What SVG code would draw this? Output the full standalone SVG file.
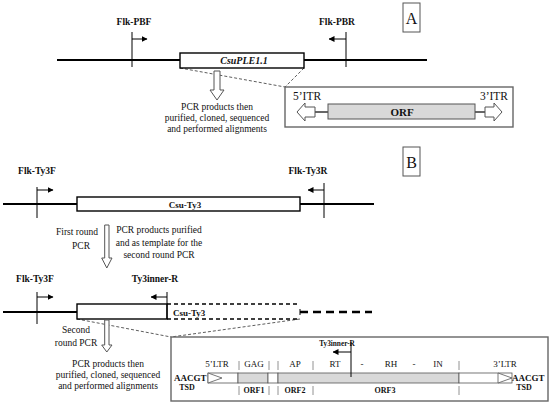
<svg xmlns="http://www.w3.org/2000/svg" width="550" height="404" viewBox="0 0 550 404">
<defs>
<marker id="ah" viewBox="0 0 6 6" refX="5.5" refY="3" markerWidth="6" markerHeight="6" markerUnits="userSpaceOnUse" orient="auto">
<path d="M0,0 L6,3 L0,6 Z" fill="#000"/>
</marker>
<style>
text{font-family:"Liberation Serif","Times New Roman",serif;fill:#111}
.b{font-weight:bold}
.lbl{font-size:9.5px;font-weight:bold;text-anchor:middle}
.txt{font-size:9.5px;text-anchor:middle}
.main{stroke:#000;stroke-width:1.8;fill:none}
.box{fill:#fff;stroke:#000;stroke-width:1.4}
.tick{stroke:#000;stroke-width:1;fill:none}
.pr{stroke:#000;stroke-width:1;fill:none;marker-end:url(#ah)}
.hol{fill:#fff;stroke:#555;stroke-width:1}
.dot{stroke:#333;stroke-width:0.8;stroke-dasharray:3,2;fill:none}
.panel{fill:#fff;stroke:#666;stroke-width:1.4}
.sep{stroke:#777;stroke-width:0.8}
.gray{fill:#d9d9d9;stroke:#555;stroke-width:0.8}
.wh{fill:#fff;stroke:#555;stroke-width:0.8}
</style>
</defs>

<!-- Panel A -->
<g id="labelA"><rect x="403" y="3" width="17" height="29" fill="#fff" stroke="#555" stroke-width="1"/><text x="411.5" y="24" font-size="16" text-anchor="middle">A</text></g>

<g id="connectors">
<line class="main" x1="57" y1="60" x2="427" y2="60"/>
<line class="dot" x1="180" y1="68" x2="285" y2="87"/>
<line class="dot" x1="304" y1="68" x2="285" y2="87"/>
<line class="main" x1="3" y1="204" x2="374" y2="204"/>
<line class="main" x1="3" y1="312" x2="77" y2="312"/>
<line class="dot" x1="77" y1="319" x2="171" y2="337"/>
<line class="dot" x1="300" y1="319" x2="171" y2="337"/>
<path d="M167,304 H300 M167,319 H300" stroke="#000" stroke-width="1.5" stroke-dasharray="4,3" fill="none"/>
<line x1="300" y1="309" x2="300" y2="315" stroke="#000" stroke-width="1"/>
<line x1="300" y1="312" x2="372" y2="312" stroke="#000" stroke-width="2.5" stroke-dasharray="8,5"/>
</g>

<g id="CsuPLE"><rect class="box" x="180" y="53" width="124" height="15"/><text x="244" y="64" font-size="10" font-weight="bold" font-style="italic" text-anchor="middle">CsuPLE1.1</text></g>

<g id="FlkPBF"><text class="lbl" x="134" y="25">Flk-PBF</text><line class="tick" x1="132" y1="32" x2="132" y2="67"/><line class="pr" x1="132" y1="39" x2="147" y2="39"/></g>
<g id="FlkPBR"><text class="lbl" x="337" y="25">Flk-PBR</text><line class="tick" x1="346" y1="32" x2="346" y2="67"/><line class="pr" x1="346" y1="39" x2="329" y2="39"/></g>

<g id="arrowA"><path class="hol" d="M214,71 H220 V90 H224 L217,100 L210,90 H214 Z"/></g>
<g id="textA"><text class="txt" x="217" y="110">PCR products then</text><text class="txt" x="217" y="121">purified, cloned, sequenced</text><text class="txt" x="217" y="132">and performed alignments</text></g>

<g id="panelA">
<rect class="panel" x="285" y="87" width="228" height="40"/>
<text x="293" y="100" font-size="11.5">5’ITR</text>
<text x="508" y="100" font-size="11.5" text-anchor="end">3’ITR</text>
<line x1="315" y1="112" x2="328" y2="112" stroke="#000" stroke-width="1.2"/>
<line x1="475" y1="112" x2="485" y2="112" stroke="#000" stroke-width="1.2"/>
<path class="hol" d="M315,107 V117 H305 V121 L297,112 L305,103 V107 Z"/>
<path class="hol" d="M485,107 V117 H494 V121 L502,112 L494,103 V107 Z"/>
<rect x="328" y="104" width="147" height="15" fill="#d9d9d9" stroke="#555" stroke-width="1"/>
<text x="402" y="115.5" font-size="11" font-weight="bold" text-anchor="middle">ORF</text>
</g>

<!-- Panel B -->
<g id="labelB"><rect x="403" y="147" width="17" height="29" fill="#fff" stroke="#555" stroke-width="1"/><text x="411.5" y="168" font-size="16" text-anchor="middle">B</text></g>

<g id="CsuTy3a"><rect class="box" x="77" y="197" width="223" height="14"/><text x="185" y="208" font-size="9" font-weight="bold" text-anchor="middle">Csu-Ty3</text></g>
<g id="FlkTy3F1"><text class="lbl" x="37" y="174">Flk-Ty3F</text><line class="tick" x1="37" y1="187" x2="37" y2="218"/><line class="pr" x1="37" y1="190" x2="53" y2="190"/></g>
<g id="FlkTy3R"><text class="lbl" x="308" y="174">Flk-Ty3R</text><line class="tick" x1="324" y1="183" x2="324" y2="218"/><line class="pr" x1="324" y1="190" x2="308" y2="190"/></g>

<g id="arrowB1"><text class="txt" x="77" y="235">First round</text><text class="txt" x="81" y="249">PCR</text><path class="hol" d="M104.7,225 H109 V258 H112 L106.8,268 L101.7,258 H104.7 Z"/></g>
<g id="textB1"><text class="txt" x="159" y="233">PCR products purified</text><text class="txt" x="159" y="246">and as template for the</text><text class="txt" x="159" y="258">second round PCR</text></g>

<g id="CsuTy3b"><rect class="box" x="77" y="304" width="90" height="15"/><text x="173" y="316" font-size="9" font-weight="bold">Csu-Ty3</text></g>
<g id="FlkTy3F2"><text class="lbl" x="35" y="282">Flk-Ty3F</text><line class="tick" x1="37" y1="292" x2="37" y2="324"/><line class="pr" x1="37" y1="297" x2="53" y2="297"/></g>
<g id="Ty3innerR"><text class="lbl" x="155" y="282">Ty3inner-R</text><line class="tick" x1="167" y1="292" x2="167" y2="319"/><line class="pr" x1="167" y1="297" x2="151" y2="297"/></g>

<g id="arrowB2"><text class="txt" x="76" y="333">Second</text><text class="txt" x="76" y="346">round PCR</text><path class="hol" d="M104.7,320 H109 V345 H112 L106.8,352 L101.7,345 H104.7 Z"/></g>
<g id="textB2"><text class="txt" x="108" y="367">PCR products then</text><text class="txt" x="108" y="378">purified, cloned, sequenced</text><text class="txt" x="108" y="389">and performed alignments</text></g>

<g id="panelB">
<rect class="panel" x="171" y="337" width="377" height="64"/>
<rect class="wh" x="208" y="373" width="30" height="10"/>
<rect class="gray" x="238" y="373" width="30" height="10"/>
<rect class="wh" x="268" y="373" width="10" height="10"/>
<rect class="gray" x="278" y="373" width="181" height="10"/>
<rect class="wh" x="459" y="373" width="53" height="10"/>
<path d="M208,373 L222,378 L208,383 Z M498,373 L512,378 L498,383 Z" fill="#fff" stroke="#555" stroke-width="0.8"/>
<path class="sep" d="M239,361 V370 M269,361 V370 M278,361 V370 M313,361 V370 M459,361 V370 M239,386 V395 M269,386 V395 M278,386 V395 M313,386 V395 M459,386 V395"/>
<g font-size="9" text-anchor="middle">
<text x="217" y="367">5’LTR</text>
<text x="254" y="367">GAG</text>
<text x="295" y="367">AP</text>
<text x="335" y="367">RT</text>
<text x="362" y="367">-</text>
<text x="391" y="367">RH</text>
<text x="414" y="367">-</text>
<text x="438" y="367">IN</text>
<text x="505" y="367">3’LTR</text>
</g>
<g font-size="8" font-weight="bold" text-anchor="middle">
<text x="254" y="393">ORF1</text>
<text x="295" y="393">ORF2</text>
<text x="385" y="393">ORF3</text>
<text x="187" y="390">TSD</text>
<text x="524" y="390">TSD</text>
</g>
<text x="174" y="381" font-size="9" font-weight="bold">AACGT</text>
<text x="512" y="381" font-size="9" font-weight="bold">AACGT</text>
<text x="337" y="346" font-size="7.3" font-weight="bold" text-anchor="middle">Ty3inner-R</text>
<line class="tick" x1="351" y1="342" x2="351" y2="377"/>
<line class="pr" x1="351" y1="352" x2="333" y2="352"/>
</g>
</svg>
